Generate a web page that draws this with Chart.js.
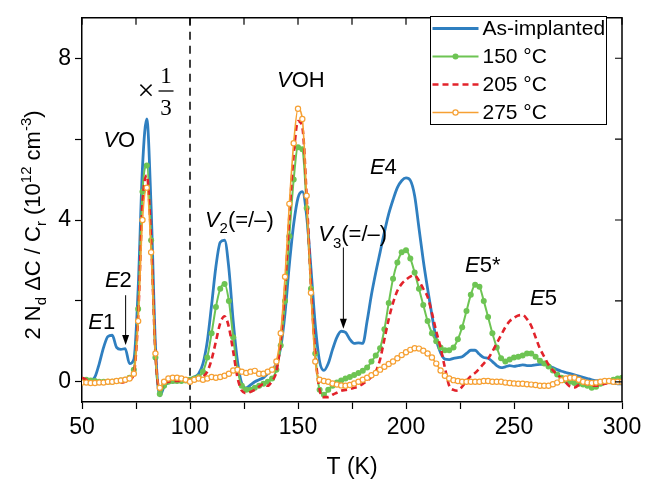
<!DOCTYPE html>
<html lang="en">
<head>
<meta charset="UTF-8">
<title>DLTS spectra</title>
<style>
  html, body { margin: 0; padding: 0; background: #fff; }
  #wrap { width: 655px; height: 482px; }
</style>
<script src="https://cdn.jsdelivr.net/npm/chart.js@4"></script>
</head>
<body>
<div id="wrap"><canvas id="chart" width="655" height="482"></canvas></div>
<script>
// temperature (K)
const temps = [
  50, 52, 54, 56, 58, 60, 62, 64, 66, 68, 70, 72, 74, 76, 78, 80, 82, 84, 86, 88,
  90, 92, 94, 96, 98, 100, 102, 104, 106, 108, 110, 112, 114, 116, 118, 120, 122, 124, 126, 128,
  130, 132, 134, 136, 138, 140, 142, 144, 146, 148, 150, 152, 154, 156, 158, 160, 162, 164, 166, 168,
  170, 172, 174, 176, 178, 180, 182, 184, 186, 188, 190, 192, 194, 196, 198, 200, 202, 204, 206, 208,
  210, 212, 214, 216, 218, 220, 222, 224, 226, 228, 230, 232, 234, 236, 238, 240, 242, 244, 246, 248,
  250, 252, 254, 256, 258, 260, 262, 264, 266, 268, 270, 272, 274, 276, 278, 280, 282, 284, 286, 288,
  290, 292, 294, 296, 298, 300
];

// 2 Nd dC / Cr (1e12 cm^-3), values below 100 K shown x1/3
const asImplanted = [
  0.00, 0.00, 0.02, 0.12, 0.45, 0.85, 1.12, 1.15, 0.85, 0.80, 0.82, 0.45, 0.55, 2.3, 5.3, 6.5, 4.3, 0.9, -0.35, -0.12,
  -0.02, 0.00, 0.00, 0.02, 0.05, 0.08, 0.12, 0.2, 0.45, 1.0, 1.9, 2.85, 3.45, 3.5, 2.8, 1.5, 0.5, -0.05, -0.15, -0.08,
  0.0, 0.05, 0.1, 0.2, 0.3, 0.45, 0.85, 1.7, 2.9, 3.9, 4.55, 4.7, 4.1, 2.8, 1.4, 0.5, 0.28, 0.45, 0.8, 1.1,
  1.25, 1.22, 1.05, 0.95, 0.96, 0.95, 1.5, 2.15, 2.7, 3.2, 3.7, 4.15, 4.5, 4.8, 4.97, 5.04, 4.98, 4.6, 3.8, 3.0,
  2.3, 1.65, 1.05, 0.72, 0.56, 0.55, 0.58, 0.6, 0.62, 0.7, 0.78, 0.78, 0.68, 0.6, 0.58, 0.5, 0.4, 0.35, 0.37, 0.4,
  0.38, 0.4, 0.42, 0.4, 0.4, 0.42, 0.43, 0.43, 0.4, 0.35, 0.3, 0.26, 0.23, 0.2, 0.17, 0.14, 0.11, 0.08, 0.05, 0.03,
  0.02, 0.0, -0.02, -0.03, -0.05, -0.05
];
const anneal150 = [
  0.05, 0.05, 0.03, 0.02, 0.0, 0.0, 0.0, 0.0, 0.02, 0.03, 0.05, 0.1, 0.3, 1.8, 4.7, 5.35, 3.5, 0.6, -0.3, -0.1,
  0.0, 0.02, 0.02, 0.02, 0.03, 0.05, 0.08, 0.12, 0.25, 0.6, 1.2, 1.85, 2.3, 2.42, 2.0, 1.1, 0.3, -0.1, -0.2, -0.2,
  -0.15, -0.1, -0.05, 0.0, 0.08, 0.3, 0.9, 2.0, 3.6, 5.0, 5.8, 5.75, 4.3, 2.3, 0.7, -0.2, -0.32, -0.2, -0.1, -0.02,
  0.03, 0.08, 0.12, 0.17, 0.22, 0.27, 0.35, 0.5, 0.65, 0.83, 1.3, 1.95, 2.55, 2.95, 3.2, 3.25, 3.05, 2.7, 2.3, 1.9,
  1.5, 1.2, 1.0, 0.85, 0.78, 0.78, 0.85, 1.05, 1.35, 1.75, 2.15, 2.4, 2.35, 2.0, 1.6, 1.2, 0.85, 0.58, 0.5, 0.55,
  0.6, 0.62, 0.65, 0.7, 0.7, 0.62, 0.52, 0.45, 0.38, 0.28, 0.18, 0.1, 0.03, 0.0, -0.03, -0.05, -0.07, -0.1, -0.15, -0.12,
  -0.05, 0.0, 0.02, 0.05, 0.08, 0.1
];
const anneal205 = [
  0.1, 0.05, 0.0, -0.02, -0.03, -0.02, 0.0, 0.0, -0.02, -0.02, 0.0, 0.05, 0.2, 1.6, 4.4, 5.1, 3.5, 0.7, -0.2, -0.05,
  0.0, 0.02, 0.02, 0.03, 0.05, 0.05, 0.05, 0.07, 0.12, 0.25, 0.55, 1.0, 1.45, 1.62, 1.35, 0.75, 0.1, -0.22, -0.28, -0.25,
  -0.2, -0.12, -0.05, -0.1, 0.02, 0.25, 1.0, 2.3, 4.1, 5.6, 6.45, 6.3, 4.6, 2.4, 0.7, -0.2, -0.38, -0.38, -0.32, -0.27,
  -0.22, -0.2, -0.18, -0.15, -0.12, -0.05, 0.02, 0.12, 0.25, 0.55, 1.05, 1.55, 1.95, 2.25, 2.42, 2.52, 2.6, 2.63, 2.5, 2.3,
  2.1, 1.7, 1.25, 0.85, 0.35, -0.1, -0.2, -0.22, -0.12, 0.02, 0.14, 0.22, 0.33, 0.45, 0.57, 0.75, 0.95, 1.15, 1.35, 1.5,
  1.58, 1.64, 1.65, 1.55, 1.38, 1.1, 0.82, 0.62, 0.42, 0.28, 0.18, 0.08, -0.02, -0.12, -0.14, -0.08, -0.04, -0.06, -0.1, -0.1,
  -0.08, -0.05, -0.02, 0.0, 0.0, 0.0
];
const anneal275 = [
  -0.02, -0.02, -0.03, -0.03, -0.02, -0.02, 0.0, 0.0, 0.02, 0.03, 0.05, 0.08, 0.2, 1.5, 4.0, 4.8, 3.2, 0.7, -0.15, 0.0,
  0.08, 0.1, 0.1, 0.08, 0.05, 0.0, 0.05, 0.08, 0.05, 0.08, 0.12, 0.1, 0.12, 0.15, 0.2, 0.28, 0.3, 0.25, 0.22, 0.25,
  0.27, 0.2, 0.2, 0.25, 0.3, 0.5, 1.2, 2.6, 4.4, 5.9, 6.75, 6.5, 4.6, 2.2, 0.5, 0.05, 0.02, 0.0, -0.04, -0.07,
  -0.09, -0.1, -0.08, -0.04, 0.0, 0.05, 0.1, 0.16, 0.22, 0.3, 0.37, 0.44, 0.5, 0.58, 0.66, 0.73, 0.79, 0.83, 0.82, 0.77,
  0.7, 0.6, 0.45, 0.28, 0.15, 0.08, 0.04, 0.02, 0.0, 0.0, 0.0, 0.0, 0.0, 0.02, 0.02, 0.0, 0.0, 0.0, -0.02, -0.03,
  -0.04, -0.05, -0.05, -0.06, -0.07, -0.08, -0.1, -0.1, -0.1, -0.06, -0.02, 0.04, 0.08, 0.1, 0.1, 0.05, 0.0, -0.02, -0.03, -0.02,
  0.0, 0.02, 0.02, 0.0, 0.0, 0.0
];

const seriesNames = ['As-implanted', '150 \u00b0C', '205 \u00b0C', '275 \u00b0C'];
const xTicks = [50, 75, 100, 125, 150, 175, 200, 225, 250, 275, 300];
const yTicks = [0, 2, 4, 6, 8];

// peak labels: [T, value, parts] (text left/baseline at the point)
const peakLabels = [
  [59.9, 5.81, [['V', 'i'], ['O', 'n']]],
  [140.3, 7.29, [['V', 'i'], ['OH', 'n']]],
  [106.9, 3.83, [['V', 'i'], ['2', 'sub'], ['(=/\u2013)', 'n']]],
  [159.4, 3.47, [['V', 'i'], ['3', 'sub'], ['(=/\u2013)', 'n']]],
  [183.3, 5.13, [['E', 'i'], ['4', 'n']]],
  [227.3, 2.72, [['E', 'i'], ['5*', 'n']]],
  [257.4, 1.91, [['E', 'i'], ['5', 'n']]],
  [52.9, 1.31, [['E', 'i'], ['1', 'n']]],
  [60.6, 2.35, [['E', 'i'], ['2', 'n']]]
];
// arrows: [T, from, to]
const arrows = [[70.2, 2.14, 0.91], [171, 3.32, 1.31]];

const FONT = '"Liberation Sans", Arial, sans-serif';
const colors = ['#2f7fc0', '#6dc453', '#e2232b', '#f6a033'];

function pts(vals) {
  return temps.map((t, i) => ({ x: t, y: vals[i] }));
}

function drawRich(ctx, x, y, parts, size) {
  let cx = x;
  parts.forEach(([t, st]) => {
    let fs = size, dy = 0, style = '';
    if (st === 'i') style = 'italic ';
    if (st === 'sub') { fs = size * 0.68; dy = size * 0.28; }
    if (st === 'sup') { fs = size * 0.68; dy = -size * 0.42; }
    ctx.font = style + fs + 'px ' + FONT;
    ctx.fillText(t, cx, y + dy);
    cx += ctx.measureText(t).width;
  });
  return cx - x;
}

const decor = {
  id: 'decor',
  beforeDatasetsDraw(chart) {
    const { ctx, chartArea: a, scales: { x } } = chart;
    ctx.save();
    ctx.strokeStyle = '#000';
    ctx.lineWidth = 1.5;
    ctx.setLineDash([8, 6]);
    const px = x.getPixelForValue(100);
    ctx.beginPath();
    ctx.moveTo(px, a.top);
    ctx.lineTo(px, a.bottom);
    ctx.stroke();
    ctx.restore();
  },
  afterDraw(chart) {
    const { ctx, chartArea: a, scales: { x, y } } = chart;
    ctx.save();
    ctx.strokeStyle = '#000';
    ctx.fillStyle = '#000';
    ctx.lineWidth = 1.5;
    // top and right frame with inward ticks
    ctx.beginPath();
    ctx.moveTo(a.left, a.top); ctx.lineTo(a.right, a.top); ctx.lineTo(a.right, a.bottom);
    ctx.stroke();
    ctx.lineWidth = 1.2;
    ctx.beginPath();
    xTicks.forEach(v => {
      const p = x.getPixelForValue(v);
      ctx.moveTo(p, a.top); ctx.lineTo(p, a.top + 7);
    });
    yTicks.forEach(v => {
      const p = y.getPixelForValue(v);
      ctx.moveTo(a.right, p); ctx.lineTo(a.right - 7, p);
    });
    ctx.stroke();

    // peak labels
    ctx.textBaseline = 'alphabetic';
    ctx.textAlign = 'left';
    peakLabels.forEach(([t, v, parts]) => {
      drawRich(ctx, x.getPixelForValue(t), y.getPixelForValue(v), parts, 22);
    });

    // x 1/3 marker
    const fx = x.getPixelForValue(88.9), fy = y.getPixelForValue(7.19);
    ctx.textAlign = 'center';
    ctx.textBaseline = 'middle';
    ctx.font = '30px "Liberation Serif", "Times New Roman", serif';
    ctx.fillText('\u00d7', fx - 20, fy + 1);
    ctx.font = '23px "Liberation Serif", "Times New Roman", serif';
    ctx.fillText('1', fx, fy - 14);
    ctx.fillText('3', fx, fy + 18);
    ctx.lineWidth = 1.3;
    ctx.beginPath();
    ctx.moveTo(fx - 7.5, fy); ctx.lineTo(fx + 7.5, fy);
    ctx.stroke();

    // arrows
    ctx.lineWidth = 1;
    arrows.forEach(([t, v0, v1]) => {
      const px = x.getPixelForValue(t);
      const p0 = y.getPixelForValue(v0), p1 = y.getPixelForValue(v1);
      ctx.beginPath();
      ctx.moveTo(px, p0); ctx.lineTo(px, p1 - 8);
      ctx.stroke();
      ctx.beginPath();
      ctx.moveTo(px, p1); ctx.lineTo(px - 3.5, p1 - 10); ctx.lineTo(px + 3.5, p1 - 10);
      ctx.closePath();
      ctx.fill();
    });

    // legend
    const lx = 430.5, ly = 16.5, lw = 176, lh = 108;
    ctx.fillStyle = '#fff';
    ctx.fillRect(lx, ly, lw, lh);
    ctx.strokeStyle = '#000';
    ctx.lineWidth = 1;
    ctx.strokeRect(lx, ly, lw, lh);
    chart.data.datasets.forEach((ds, i) => {
      const yy = ly + 12 + i * 28;
      ctx.save();
      ctx.strokeStyle = ds.borderColor;
      ctx.lineWidth = ds.borderWidth;
      ctx.setLineDash(ds.borderDash || []);
      ctx.beginPath();
      ctx.moveTo(lx + 2, yy); ctx.lineTo(lx + 48, yy);
      ctx.stroke();
      ctx.restore();
      if (ds.pointRadius > 0) {
        ctx.beginPath();
        ctx.arc(lx + 25, yy, ds.pointRadius, 0, Math.PI * 2);
        ctx.fillStyle = ds.pointBackgroundColor;
        ctx.fill();
        if (ds.pointBorderWidth) {
          ctx.strokeStyle = ds.pointBorderColor;
          ctx.lineWidth = ds.pointBorderWidth;
          ctx.stroke();
        }
      }
      ctx.fillStyle = '#000';
      ctx.font = '21px ' + FONT;
      ctx.textAlign = 'left';
      ctx.textBaseline = 'middle';
      ctx.fillText(ds.label, lx + 52, yy + 1);
    });

    // axis titles
    ctx.fillStyle = '#000';
    ctx.textAlign = 'center';
    ctx.textBaseline = 'alphabetic';
    ctx.font = '23px ' + FONT;
    ctx.fillText('T (K)', (a.left + a.right) / 2, 474);

    const ytitle = [['2 N', 'n'], ['d', 'sub'], [' \u0394C / C', 'n'], ['r', 'sub'], [' (10', 'n'], ['12', 'sup'], [' cm', 'n'], ['-3', 'sup'], [')', 'n']];
    ctx.save();
    ctx.translate(40, 225);
    ctx.rotate(-Math.PI / 2);
    ctx.textAlign = 'left';
    ctx.globalAlpha = 0;
    const w = drawRich(ctx, 0, 0, ytitle, 22);
    ctx.globalAlpha = 1;
    drawRich(ctx, -w / 2, 0, ytitle, 22);
    ctx.restore();
    ctx.restore();
  }
};

const values = [asImplanted, anneal150, anneal205, anneal275];

new Chart(document.getElementById('chart'), {
  type: 'line',
  data: {
    datasets: [
      {
        label: seriesNames[0], data: pts(values[0]), borderColor: colors[0], borderWidth: 2.8,
        pointRadius: 0, order: 4
      },
      {
        label: seriesNames[1], data: pts(values[1]), borderColor: colors[1], borderWidth: 2,
        pointRadius: 3, pointBackgroundColor: colors[1], pointBorderWidth: 0, order: 3
      },
      {
        label: seriesNames[2], data: pts(values[2]), borderColor: colors[2], borderWidth: 2.6,
        borderDash: [6, 4], pointRadius: 0, order: 2
      },
      {
        label: seriesNames[3], data: pts(values[3]), borderColor: colors[3], borderWidth: 1.6,
        pointRadius: 2.6, pointBackgroundColor: '#fff', pointBorderColor: colors[3],
        pointBorderWidth: 1.2, order: 1
      }
    ]
  },
  options: {
    responsive: false,
    animation: false,
    layout: { padding: { top: 8, right: 33, left: 0, bottom: 0 } },
    elements: { line: { cubicInterpolationMode: 'monotone', fill: false } },
    plugins: { legend: { display: false }, tooltip: { enabled: false } },
    scales: {
      x: {
        type: 'linear', min: 50, max: 300,
        afterFit: s => { s.height = 80; },
        afterBuildTicks: s => { s.ticks = xTicks.map(v => ({ value: v })); },
        ticks: {
          callback: v => (v % 50 === 0 ? v : ''),
          color: '#000', font: { family: FONT, size: 23 }, padding: 5,
          maxRotation: 0, autoSkip: false
        },
        grid: { drawOnChartArea: false, tickLength: 7, color: '#000', tickWidth: 1.2 },
        border: { color: '#000', width: 1.5 }
      },
      y: {
        min: -0.5, max: 9,
        afterFit: s => { s.width = 82; },
        afterBuildTicks: s => { s.ticks = yTicks.map(v => ({ value: v })); },
        ticks: {
          callback: v => (v % 4 === 0 ? v : ''),
          color: '#000', font: { family: FONT, size: 23 }, padding: 4
        },
        grid: { drawOnChartArea: false, tickLength: 7, color: '#000', tickWidth: 1.2 },
        border: { color: '#000', width: 1.5 }
      }
    }
  },
  plugins: [decor]
});
</script>
</body>
</html>
